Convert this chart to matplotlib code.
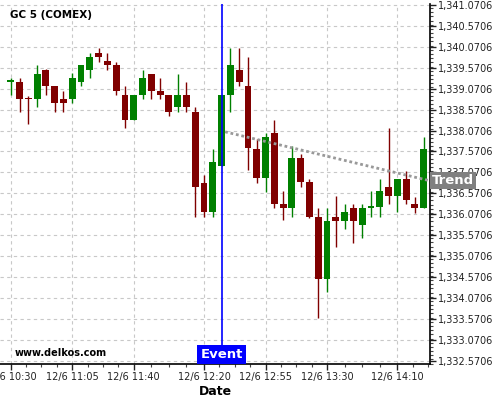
import numpy as np
import matplotlib
matplotlib.use('Agg')
import matplotlib.pyplot as plt
from matplotlib.ticker import FixedLocator, MultipleLocator, FuncFormatter

# 5 minute candles, 12/6 from 10:30 to 14:25
opens = [1339.24, 1339.23, 1338.86, 1338.83, 1339.52, 1339.13, 1338.83, 1338.83,
         1339.24, 1339.52, 1339.92, 1339.73, 1339.64, 1338.92, 1338.32, 1338.92,
         1339.42, 1339.02, 1338.93, 1338.64, 1338.93, 1338.52, 1336.82, 1336.13,
         1337.23, 1338.92, 1339.52, 1339.13, 1337.62, 1336.93, 1338.01, 1336.32,
         1336.23, 1337.42, 1336.83, 1336.01, 1334.52, 1336.00, 1335.92, 1336.21,
         1335.81, 1336.23, 1336.24, 1336.72, 1336.51, 1336.91, 1336.31, 1336.21]
highs = [1339.32, 1339.32, 1338.90, 1339.64, 1339.53, 1339.14, 1339.01, 1339.44,
         1339.64, 1339.92, 1340.04, 1339.92, 1339.72, 1339.13, 1338.92, 1339.52,
         1339.42, 1339.32, 1338.93, 1339.42, 1339.22, 1338.63, 1337.00, 1337.62,
         1338.93, 1340.04, 1340.04, 1339.82, 1337.88, 1338.01, 1338.32, 1336.63,
         1337.70, 1337.51, 1336.91, 1336.21, 1336.21, 1336.51, 1336.31, 1336.31,
         1336.31, 1336.63, 1336.91, 1338.12, 1336.91, 1337.11, 1336.49, 1337.91]
lows = [1338.92, 1338.51, 1338.22, 1338.63, 1338.92, 1338.51, 1338.51, 1338.72,
        1339.13, 1339.32, 1339.72, 1339.51, 1338.92, 1338.12, 1338.32, 1338.82,
        1338.82, 1338.82, 1338.42, 1338.52, 1338.52, 1336.00, 1336.01, 1336.01,
        1337.23, 1338.52, 1339.13, 1337.13, 1336.81, 1336.61, 1336.21, 1335.93,
        1336.00, 1336.72, 1335.97, 1333.58, 1334.22, 1335.30, 1335.71, 1335.39,
        1335.50, 1336.00, 1336.00, 1336.31, 1336.13, 1336.32, 1336.11, 1336.21]
closes = [1339.26, 1338.83, 1338.83, 1339.42, 1339.14, 1338.74, 1338.74, 1339.33,
          1339.64, 1339.83, 1339.83, 1339.64, 1339.02, 1338.32, 1338.92, 1339.33,
          1339.02, 1338.93, 1338.52, 1338.93, 1338.64, 1336.73, 1336.13, 1337.32,
          1338.93, 1339.64, 1339.24, 1337.65, 1336.93, 1337.91, 1336.32, 1336.23,
          1337.42, 1336.83, 1336.01, 1334.52, 1335.91, 1335.92, 1336.12, 1335.92,
          1336.21, 1336.25, 1336.63, 1336.51, 1336.91, 1336.41, 1336.23, 1337.62]

tick_minutes = [0, 35, 70, 110, 145, 180, 220]   # minutes after 10:30
tick_labels = ['12/6 10:30', '12/6 11:05', '12/6 11:40', '12/6 12:20',
               '12/6 12:55', '12/6 13:30', '12/6 14:10']
event_minute = 120          # 12:30
trend_minutes = [122, 238.6]
trend_prices = [1338.04, 1336.87]

minutes = np.arange(len(opens)) * 5

fig = plt.figure(figsize=(5, 4), dpi=100)
ax = fig.add_axes([0.0, 0.09, 0.86, 0.90])

up_col = '#008000'
dn_col = '#800000'
for m, o, h, l, c in zip(minutes, opens, highs, lows, closes):
    col = up_col if c >= o else dn_col
    ax.vlines(m, l, h, color=col, lw=1, zorder=3)
    body = max(abs(c - o), 0.03)
    ax.bar(m, body, bottom=min(o, c), width=3.9, color=col, lw=0, zorder=4)

# trend line
ax.plot(trend_minutes, trend_prices, color='#999999', lw=2, ls=(0, (1, 1)), zorder=5)

# event line
ax.axvline(event_minute, color='#0000ff', lw=1.2, zorder=6)

ax.set_xlim(-6.1, 238.6)
ax.set_ylim(1332.4924, 1341.0945)

# axes styling
for s in ['left', 'top']:
    ax.spines[s].set_visible(False)
ax.spines['right'].set_linewidth(1.2)
ax.spines['bottom'].set_linewidth(1.2)
ax.yaxis.tick_right()

yt = np.arange(1332.5706, 1341.1, 0.5)
ax.set_yticks(yt)
ax.yaxis.set_major_formatter(FuncFormatter(lambda v, p: '{:,.4f}'.format(v)))
ax.yaxis.set_minor_locator(MultipleLocator(0.1))

ax.set_xticks(tick_minutes)
ax.set_xticklabels(tick_labels)
minor_x = []
edges = tick_minutes + [255]
for a, b in zip(edges[:-1], edges[1:]):
    minor_x += [a + (b - a) * k / 4 for k in (1, 2, 3)]
ax.xaxis.set_minor_locator(FixedLocator(minor_x))

ax.tick_params(axis='both', which='major', labelsize=7, length=4, width=1, pad=2, colors='#222222')
ax.tick_params(axis='both', which='minor', length=2, width=0.8, colors='#444444')
ax.grid(True, which='major', color='#c8c8c8', ls=(0, (3, 3)), lw=0.8)
ax.set_axisbelow(True)

ax.set_xlabel('Date', fontsize=9, fontweight='bold', labelpad=2)

ax.text(0.023, 0.969, 'GC 5 (COMEX)', transform=ax.transAxes, fontsize=7.5,
        fontweight='bold', va='center', ha='left', zorder=8)
ax.text(0.035, 0.031, 'www.delkos.com', transform=ax.transAxes, fontsize=7,
        fontweight='bold', va='center', ha='left', zorder=8)

ax.annotate('Event', xy=(event_minute, 0), xycoords=('data', 'axes fraction'),
            xytext=(0, 2.2), textcoords='offset points', ha='center', va='bottom',
            color='white', fontsize=9.5, fontweight='bold', zorder=7,
            bbox=dict(boxstyle='square,pad=0.25', fc='#0000ff', ec='none'))

ax.annotate('Trend', xy=(1.0, trend_prices[1]), xycoords=('axes fraction', 'data'),
            xytext=(1.6, 0), textcoords='offset points', ha='left', va='center',
            color='white', fontsize=9.5, fontweight='bold', zorder=7,
            annotation_clip=False,
            bbox=dict(boxstyle='square,pad=0.15', fc='#808080', ec='none'))

fig.savefig('out.png', dpi=100)
